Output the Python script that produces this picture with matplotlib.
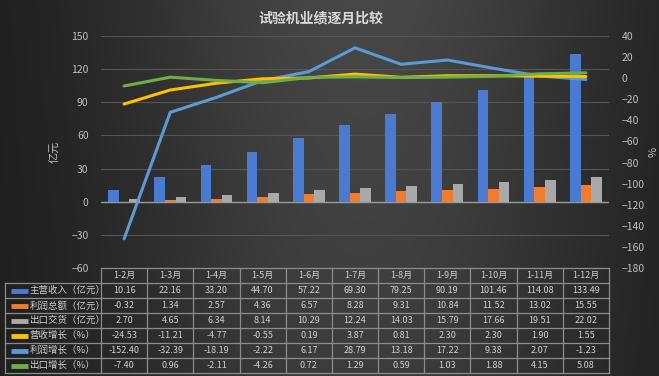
import numpy as np
import matplotlib
matplotlib.use('Agg')
import matplotlib.pyplot as plt

plt.rcParams['font.family'] = ['Noto Sans CJK SC', 'DejaVu Sans']

months = ['1-2月', '1-3月', '1-4月', '1-5月', '1-6月', '1-7月', '1-8月',
          '1-9月', '1-10月', '1-11月', '1-12月']
revenue = [10.16, 22.16, 33.20, 44.70, 57.22, 69.30, 79.25, 90.19, 101.46, 114.08, 133.49]
profit = [-0.32, 1.34, 2.57, 4.36, 6.57, 8.28, 9.31, 10.84, 11.52, 13.02, 15.55]
export = [2.70, 4.65, 6.34, 8.14, 10.29, 12.24, 14.03, 15.79, 17.66, 19.51, 22.02]
rev_growth = [-24.53, -11.21, -4.77, -0.55, 0.19, 3.87, 0.81, 2.30, 2.30, 1.90, 1.55]
profit_growth = [-152.40, -32.39, -18.19, -2.22, 6.17, 28.79, 13.18, 17.22, 9.38, 2.07, -1.23]
export_growth = [-7.40, 0.96, -2.11, -4.26, 0.72, 1.29, 0.59, 1.03, 1.88, 4.15, 5.08]

series_names = ['主营收入（亿元）', '利润总额（亿元）', '出口交货（亿元）',
                '营收增长（%）', '利润增长（%）', '出口增长（%）']
series_colors = ['#4a7bd0', '#f07c2e', '#a9a9a9', '#ffc000', '#5b9bd5', '#70ad47']
table_data = [revenue, profit, export, rev_growth, profit_growth, export_growth]

W, H = 659, 376
fig = plt.figure(figsize=(W / 100, H / 100), dpi=100)

# background gradient
bg = fig.add_axes([0, 0, 1, 1], zorder=-10)
xx = np.linspace(0, 1, 400)
yy = np.linspace(0, 1, 200)
X, Y = np.meshgrid(xx, yy)
val = 0.11 + 0.17 * np.exp(-((X - 0.55) / 0.38) ** 2) * (1 - 0.25 * Y)
bg.imshow(np.dstack([val, val, val]), aspect='auto', extent=[0, 1, 0, 1], origin='upper')
bg.set_xlim(0, 1); bg.set_ylim(0, 1)
bg.axis('off')

left, right = 101 / W, 609 / W
top, bottom = 1 - 36 / H, 1 - 268 / H
ax = fig.add_axes([left, bottom, right - left, top - bottom])
ax.patch.set_alpha(0)
idx = np.arange(len(months))
bw = 0.23
ax.bar(idx - bw, revenue, bw, color=series_colors[0], zorder=3)
ax.bar(idx, profit, bw, color=series_colors[1], zorder=3)
ax.bar(idx + bw, export, bw, color=series_colors[2], zorder=3)
ax.set_xlim(-0.5, len(months) - 0.5)
ax.set_ylim(-60, 150)
ax.set_yticks(range(-60, 151, 30))
ax.grid(axis='y', color='#555555', lw=0.8, zorder=0)
ax.axhline(0, color='#9a9a9a', lw=1, zorder=2)
ax.set_xticks([])
for s in ax.spines.values():
    s.set_visible(False)
ax.tick_params(axis='y', colors='#bfbfbf', labelsize=7.5, length=0, pad=9)
ax.set_ylabel('亿元', color='#bfbfbf', fontsize=8, labelpad=8)

ax2 = ax.twinx()
ax2.set_ylim(-180, 40)
ax2.set_yticks(range(-180, 41, 20))
for s in ax2.spines.values():
    s.set_visible(False)
ax2.tick_params(axis='y', colors='#bfbfbf', labelsize=7.5, length=0, pad=9)
ax2.set_ylabel('%', color='#bfbfbf', fontsize=8, labelpad=3)
ax2.plot(idx, profit_growth, color=series_colors[4], lw=2.2, solid_capstyle='round')
ax2.plot(idx, rev_growth, color=series_colors[3], lw=2.2, solid_capstyle='round')
ax2.plot(idx, export_growth, color=series_colors[5], lw=2.2, solid_capstyle='round')

fig.text(321 / W, 1 - 18 / H, '试验机业绩逐月比较', ha='center', va='center',
         fontsize=10, fontweight='bold', color='#d9d9d9')

# data table
tb_top, tb_bot = 1 - 268 / H, 1 - 373 / H
tax = fig.add_axes([left, tb_bot, right - left, tb_top - tb_bot])
tax.patch.set_alpha(0)
tax.set_xlim(-0.5, len(months) - 0.5)
nrows = len(series_names) + 1
tax.set_ylim(nrows, 0)
tax.axis('off')
x_lab = -0.5 - 96 / 46.18
gc = '#8c8c8c'
tax.plot([-0.5, len(months) - 0.5], [0, 0], color=gc, lw=0.9, clip_on=False)
for r in range(1, nrows + 1):
    tax.plot([x_lab, len(months) - 0.5], [r, r], color=gc, lw=0.9, clip_on=False)
tax.plot([x_lab, x_lab], [1, nrows], color=gc, lw=0.9, clip_on=False)
for k in range(len(months) + 1):
    tax.plot([k - 0.5, k - 0.5], [0, nrows], color=gc, lw=0.9, clip_on=False)
tc = '#d0d0d0'
for i, m in enumerate(months):
    tax.text(i, 0.5, m, ha='center', va='center', fontsize=6.5, color=tc)
for r, (name, col, vals) in enumerate(zip(series_names, series_colors, table_data), start=1):
    tax.plot([x_lab + 0.12, x_lab + 0.5], [r + 0.5, r + 0.5], color=col, lw=3.5,
             clip_on=False, solid_capstyle='butt')
    tax.text(x_lab + 0.53, r + 0.5, name, ha='left', va='center', fontsize=6.8,
             color=tc, clip_on=False)
    for i, v in enumerate(vals):
        tax.text(i, r + 0.5, f'{v:.2f}', ha='center', va='center', fontsize=6.5, color=tc)

fig.savefig('out.png', dpi=100)
